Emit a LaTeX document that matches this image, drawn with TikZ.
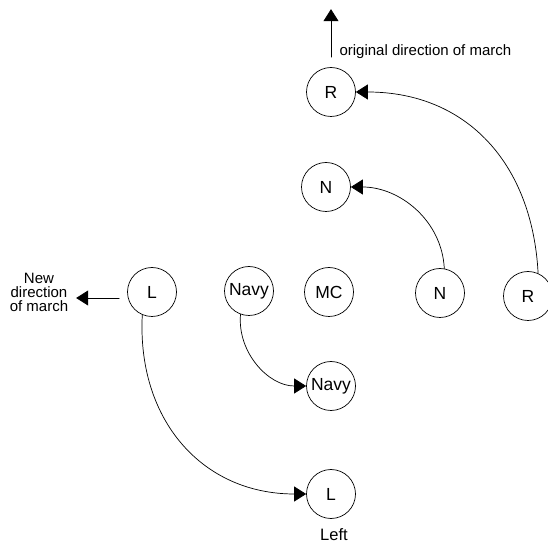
\documentclass[tikz,border=0pt]{standalone}
\usepackage{fontspec}
\setmainfont{Liberation Sans}
\usepackage{tikz}
\usetikzlibrary{arrows.meta}
\tikzset{
  unit/.style={draw,circle,line width=0.7pt,minimum size=49pt,inner sep=0pt,font=\fontsize{17.5}{18}\selectfont},
  caption/.style={font=\fontsize{15}{15}\selectfont},
  move/.style={line width=0.7pt,->}
}
\begin{document}
\begin{tikzpicture}[line cap=round,line join=round,>={Triangle[length=12pt,width=15pt]},x=1pt,y=1pt]
\clip(0,0) rectangle (548,552);
\draw (331,460) node[unit] (rt) {R};
\draw (326,365) node[unit] (nt) {N};
\draw (152,260) node[unit] (lf) {L};
\draw (249,261) node[unit] (navy) {Navy};
\draw (329,260) node[unit] (mc) {MC};
\draw (440,259) node[unit] (nr) {N};
\draw (528,256) node[unit] (rr) {R};
\draw (331,166) node[unit] (navyb) {Navy};
\draw (331,58) node[unit] (lb) {L};
\draw (334,17) node[caption,font=\fontsize{16.5}{16}\selectfont] (left) {Left};
\draw (336,500) node[caption,anchor=west] (orig) {original direction of march};
\draw (39,260) node[caption,align=center,font=\fontsize{15}{14}\selectfont] (new) {New\\direction\\of march};
\coordinate (o1) at ([yshift=10pt]rt.north);
\coordinate (o2) at ([yshift=58pt]rt.north);
\coordinate (n1) at ([xshift=-8pt,yshift=-6pt]lf.west);
\coordinate (n2) at ([xshift=-51pt,yshift=-6pt]lf.west);
\draw [move] (o1)-- (o2);
\draw [move] (n1)-- (n2);
\draw [move] (rr.66) to[out=93,in=0,looseness=1.1] (rt.east);
\draw [move] (nr.80) to[out=93,in=0] (nt.east);
\draw [move] (navy.-110) to[out=-95,in=180] (navyb.west);
\draw [move] (lf.-113) to[out=-93,in=180,looseness=1.1] (lb.west);
\end{tikzpicture}
\end{document}
